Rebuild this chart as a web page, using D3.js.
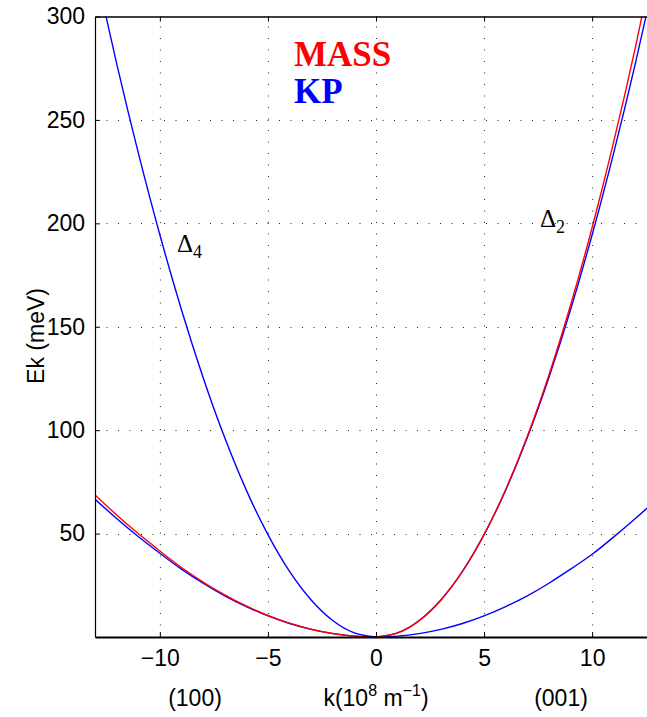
<!DOCTYPE html>
<html>
<head>
<meta charset="utf-8">
<script src="https://cdn.jsdelivr.net/npm/d3@7"></script>
<style>
  html, body { margin: 0; padding: 0; background: #fff; }
  svg { display: block; }
</style>
</head>
<body>
<svg id="chart" width="647" height="717"></svg>
<script>
// Wave vector samples, 10^8 m^-1
const kRight = [0, 1, 2, 3, 4, 5, 6, 7, 8, 9, 10, 11, 12, 13];
const kLeft  = [0, -1, -2, -3, -4, -5, -6, -7, -8, -9, -10, -11, -12, -13];

// Kinetic energy, meV — MASS model
const massDelta2Steep = [0, 1.98, 7.92, 17.8, 31.7, 49.5, 71.3, 97.0, 126.7, 160.4, 198.0, 239.6, 285.1, 334.6];
const massDelta4Light = [0, 0.42, 1.67, 3.76, 6.68, 10.4, 15.0, 20.4, 26.6, 33.6, 41.6, 50.0, 59.0, 68.7];

// Kinetic energy, meV — KP model
const kpDelta2Steep = [0, 1.99, 7.95, 17.9, 31.7, 49.5, 71.0, 96.4, 125.5, 158.2, 194.5, 234.2, 277.3, 323.7];
const kpDelta2Light = [0, 0.41, 1.63, 3.67, 6.53, 10.2, 14.7, 19.9, 26.0, 32.8, 40.0, 48.4, 57.3, 66.6];
const kpDelta4Steep = [0, 1.99, 7.95, 17.9, 31.7, 49.5, 71.0, 96.4, 125.5, 158.2, 194.5, 234.2, 277.3, 323.7];
const kpDelta4Light = [0, 0.41, 1.63, 3.67, 6.53, 10.2, 14.7, 19.9, 26.0, 32.8, 40.5, 48.6, 57.3, 66.6];

// Axis ticks
const xTicks = [-10, -5, 0, 5, 10];
const yTicks = [50, 100, 150, 200, 250, 300];
const xDomain = [-13, 13];
const yDomain = [0, 300];

const sans = "'Liberation Sans', Arial, Helvetica, sans-serif";
const serif = "'Liberation Serif', 'Times New Roman', serif";
const fs = 23;

const svg = d3.select("#chart");
const plotL = 95, plotT = 16.5, plotR = 657, plotB = 637;

const x = d3.scaleLinear().domain(xDomain).range([plotL, plotR]);
const y = d3.scaleLinear().domain(yDomain).range([plotB, plotT]);

svg.append("defs").append("clipPath").attr("id", "plot")
  .append("rect").attr("x", plotL).attr("y", plotT)
  .attr("width", plotR - plotL).attr("height", plotB - plotT);

// Dotted grid
const grid = svg.append("g").attr("stroke", "#222").attr("stroke-width", 1)
  .attr("stroke-dasharray", "1,10.5");
grid.selectAll("line.v").data(xTicks).join("line").attr("class", "v")
  .attr("x1", d => x(d) + 0.5).attr("x2", d => x(d) + 0.5)
  .attr("y1", plotB).attr("y2", plotT);
grid.selectAll("line.h").data(yTicks.filter(d => d < 300)).join("line").attr("class", "h")
  .attr("y1", d => Math.round(y(d)) + 0.5).attr("y2", d => Math.round(y(d)) + 0.5)
  .attr("x1", plotL).attr("x2", plotR);

// Curves
const line = d3.line().x(d => x(d[0])).y(d => y(d[1])).curve(d3.curveNatural);
const curves = [
  { k: kLeft,  e: kpDelta4Light,   color: "#0000ff" },
  { k: kLeft,  e: massDelta4Light, color: "#ff0000" },
  { k: kLeft,  e: kpDelta4Steep,   color: "#0000ff" },
  { k: kRight, e: kpDelta2Light,   color: "#0000ff" },
  { k: kRight, e: kpDelta2Steep,   color: "#0000ff" },
  { k: kRight, e: massDelta2Steep, color: "#ff0000" }
];
const plot = svg.append("g").attr("clip-path", "url(#plot)");
plot.selectAll("path").data(curves).join("path")
  .attr("fill", "none")
  .attr("stroke", d => d.color)
  .attr("stroke-width", 1.4)
  .attr("d", d => line(d.k.map((k, i) => [k, d.e[i]])));

// Axes with inward ticks
const fmt = d3.format("");
const yAxis = svg.append("g").attr("transform", `translate(${plotL},0)`)
  .call(d3.axisLeft(y).tickValues(yTicks).tickSize(-5).tickSizeOuter(0).tickPadding(10).tickFormat(fmt));
const xAxis = svg.append("g").attr("transform", `translate(0,${plotB})`)
  .call(d3.axisBottom(x).tickValues(xTicks).tickSize(-5).tickSizeOuter(0).tickPadding(13).tickFormat(fmt));
const topAxis = svg.append("g").attr("transform", `translate(0,${plotT})`)
  .call(d3.axisTop(x).tickValues(xTicks).tickSize(-5).tickSizeOuter(0).tickFormat(""));

[yAxis, xAxis, topAxis].forEach(g => {
  g.attr("font-family", sans).attr("font-size", fs);
  g.selectAll("text").attr("fill", "#000");
  g.selectAll(".tick line").attr("stroke", "#000");
  g.select(".domain").attr("stroke", "#000");
});
yAxis.select(".domain").attr("stroke-width", 1.2);
xAxis.select(".domain").attr("stroke-width", 2.2);
topAxis.select(".domain").attr("stroke-width", 1.5);

// Axis titles
svg.append("text")
  .attr("transform", "translate(44,336) rotate(-90)")
  .attr("font-family", sans)
  .attr("text-anchor", "middle").attr("font-size", fs).text("Ek (meV)");

const xl = svg.append("text").attr("x", 376).attr("y", 706)
  .attr("font-family", sans)
  .attr("text-anchor", "middle").attr("font-size", fs);
xl.append("tspan").text("k(10");
xl.append("tspan").attr("font-size", 16).attr("dy", -10).text("8");
xl.append("tspan").attr("dy", 10).text(" m");
xl.append("tspan").attr("font-size", 16).attr("dy", -10).text("\u22121");
xl.append("tspan").attr("dy", 10).text(")");

svg.append("text").attr("x", 195).attr("y", 706).attr("text-anchor", "middle")
  .attr("font-family", sans).attr("font-size", fs).text("(100)");
svg.append("text").attr("x", 561).attr("y", 706).attr("text-anchor", "middle")
  .attr("font-family", sans).attr("font-size", fs).text("(001)");

// Legend
svg.append("text").attr("x", 294).attr("y", 66).attr("font-family", serif)
  .attr("font-weight", "bold").attr("font-size", 35).attr("fill", "#ff0000").text("MASS");
svg.append("text").attr("x", 294).attr("y", 103).attr("font-family", serif)
  .attr("font-weight", "bold").attr("font-size", 35).attr("fill", "#0000ff").text("KP");

// Valley labels
function valley(xp, yp, sub) {
  const t = svg.append("text").attr("x", xp).attr("y", yp)
    .attr("font-family", serif).attr("font-size", 25).attr("fill", "#000");
  t.append("tspan").text("\u0394");
  t.append("tspan").attr("font-size", 18).attr("dy", 6).text(sub);
}
valley(177, 252, "4");
valley(540, 227, "2");
</script>
</body>
</html>
